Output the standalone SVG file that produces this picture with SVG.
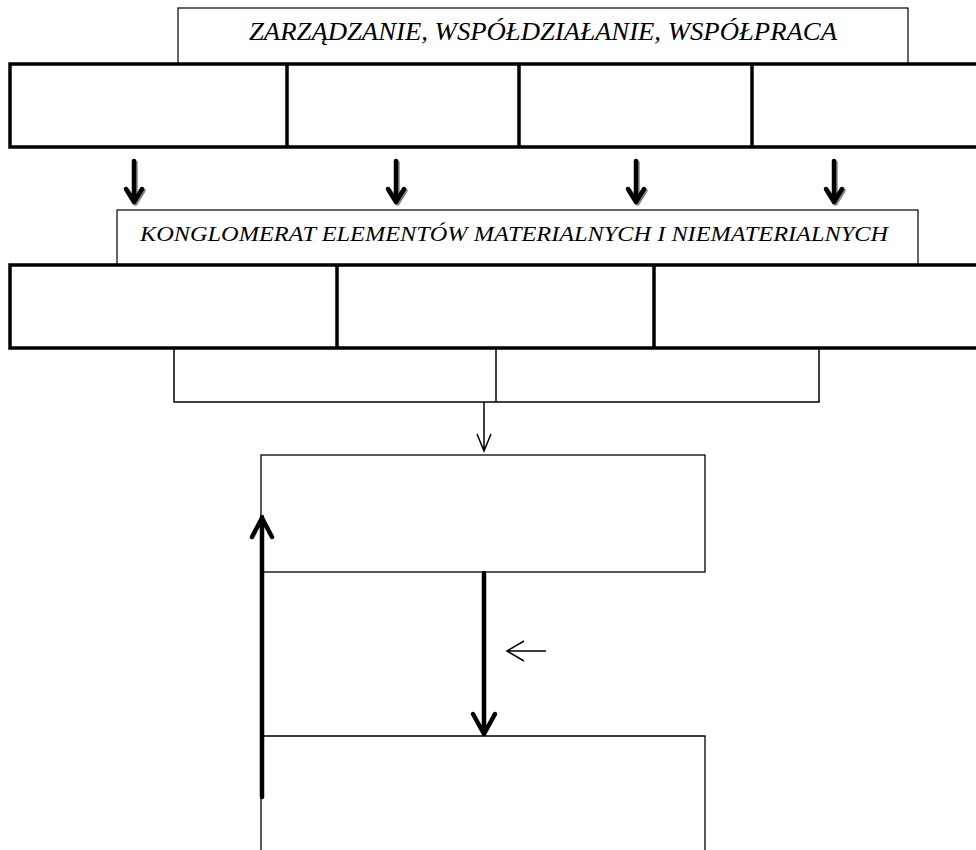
<svg xmlns="http://www.w3.org/2000/svg" width="976" height="850" viewBox="0 0 976 850">
<style>
.lbl{fill:#fff;stroke:#000;stroke-width:1.2}
.row{fill:#fff;stroke:#000;stroke-width:3.5}
.box{fill:#fff;stroke:#000;stroke-width:1.3}
.t{font-family:"Liberation Serif",serif;font-style:italic;fill:#000}
.thin{stroke:#000;stroke-width:1.5;fill:none}
.fat{stroke:#000;stroke-width:4.5;fill:none;stroke-linecap:round;stroke-linejoin:round}
.shadow{stroke:#888;stroke-width:4.5;fill:none;stroke-linecap:round;stroke-linejoin:round}
</style>
<rect width="976" height="850" fill="#fff"/>
<g id="label-top">
<rect class="lbl" x="178" y="8" width="730" height="56"/>
<text class="t" x="543" y="40" font-size="25" text-anchor="middle" textLength="588" lengthAdjust="spacingAndGlyphs">ZARZĄDZANIE, WSPÓŁDZIAŁANIE, WSPÓŁPRACA</text>
</g>
<g id="row1">
<rect class="row" x="10" y="64" width="990" height="83"/>
<line class="row" x1="287" y1="64" x2="287" y2="147"/>
<line class="row" x1="519" y1="64" x2="519" y2="147"/>
<line class="row" x1="752" y1="64" x2="752" y2="147"/>
</g>
<g id="label-mid">
<rect class="lbl" x="117" y="210" width="801" height="55"/>
<text class="t" x="514" y="241" font-size="22" text-anchor="middle" textLength="748" lengthAdjust="spacingAndGlyphs">KONGLOMERAT ELEMENTÓW MATERIALNYCH I NIEMATERIALNYCH</text>
</g>
<g id="row2">
<rect class="row" x="10" y="265" width="990" height="83"/>
<line class="row" x1="337" y1="265" x2="337" y2="348"/>
<line class="row" x1="654" y1="265" x2="654" y2="348"/>
</g>
<g id="box3"><rect class="box" x="261" y="455" width="444" height="117"/></g>
<g id="box4"><path class="box" d="M261,850 V736 H705 V850"/></g>
<g id="connectors">
<g transform="translate(1.5,1.5)">
<path class="shadow" d="M134,161 V202 M126,189 L134,202 L142,189"/>
<path class="shadow" d="M396,161 V202 M388,189 L396,202 L404,189"/>
<path class="shadow" d="M636,161 V202 M628,189 L636,202 L644,189"/>
<path class="shadow" d="M834,161 V202 M826,189 L834,202 L842,189"/>
</g>
<path class="fat" d="M134,161 V202 M126,189 L134,202 L142,189"/>
<path class="fat" d="M396,161 V202 M388,189 L396,202 L404,189"/>
<path class="fat" d="M636,161 V202 M628,189 L636,202 L644,189"/>
<path class="fat" d="M834,161 V202 M826,189 L834,202 L842,189"/>
<path class="thin" d="M174,348 V402 H819 V348 M496,348 V402"/>
<path class="thin" d="M484,402 V451 M477,434 L484,451 L491,434"/>
<path class="fat" d="M262,797 V517 M252,537 L262,518 L272,537"/>
<path class="fat" d="M484,573 V734 M473,714 L484,734 L495,714"/>
<path class="thin" d="M546,651 H507 M524,641 L507,651 L524,661"/>
</g>
</svg>
